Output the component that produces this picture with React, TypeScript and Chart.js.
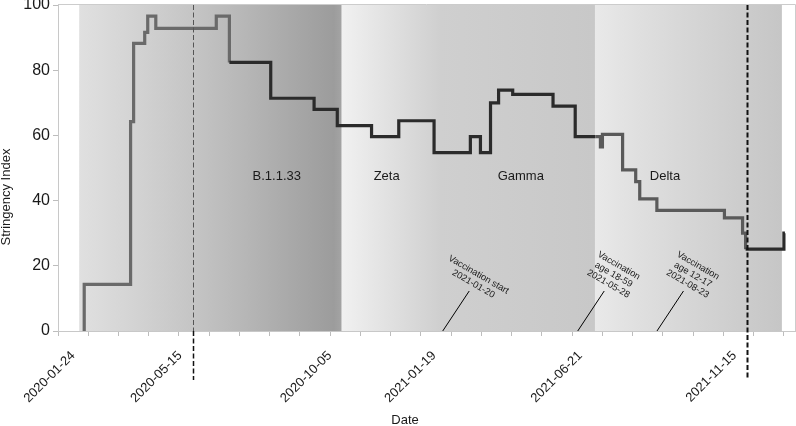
import React, { useEffect, useRef } from 'react';
import { Chart, registerables } from 'chart.js';

Chart.register(...registerables);

// ---- data (x = day index along the axis, y = Stringency Index) ----
const changeDay = [25, 26, 72, 75, 86, 89, 97, 157, 170, 211, 254, 277, 311, 338, 373, 409, 419, 429, 437, 451, 491, 513, 533, 538, 540, 560, 573, 577, 594, 661, 679, 682, 720, 721];
const stringency = [0, 14.3, 64.2, 88.2, 91.6, 96.6, 92.8, 96.6, 82.4, 71.4, 68.0, 63.0, 59.6, 64.5, 54.7, 59.6, 54.7, 70.0, 73.9, 72.6, 69.0, 59.6, 59.6, 56.5, 60.3, 49.4, 45.8, 40.5, 37.0, 34.7, 30.0, 25.1, 30.0, 30.0];

// x tick labels
const labelDays = [15, 121, 269.5, 373, 518, 671];
const labelTexts = ['2020-01-24', '2020-05-15', '2020-10-05', '2021-01-19', '2021-06-21', '2021-11-15'];

// variant periods (shaded bands)
const bandStart = [21, 281.4, 532.6];
const bandEnd = [281.4, 532.6, 718];
const variantNames = ['B.1.1.33', 'Zeta', 'Gamma', 'Delta'];
const variantLabelDay = [217, 326, 459, 602];
const variantLabelY = 47.5;

// dashed markers
const markerDays = [134.2, 683.4];

// vaccination annotations
const vaccDays = [381.6, 515.5, 594.1];
const vaccTexts = [
  ['Vaccination start', '2021-01-20'],
  ['Vaccination', 'age 18-59', '2021-05-28'],
  ['Vaccination', 'age 12-17', '2021-08-23'],
];

const X_MIN = 0;
const X_MAX = 731;
const FONT = "'Liberation Sans', Arial, Helvetica, sans-serif";

const bandStops: [number, string][][] = [
  [[0, '#e0e0e0'], [0.23, '#d2d2d2'], [0.43, '#c5c5c5'], [0.65, '#b5b5b5'], [0.84, '#a6a6a6'], [0.97, '#9c9c9c'], [1, '#a4a4a4']],
  [[0, '#f1f1f1'], [0.15, '#e4e4e4'], [0.31, '#d6d6d6'], [0.39, '#cfcfcf'], [1, '#c8c8c8']],
  [[0, '#e9e9e9'], [0.24, '#dfdfdf'], [0.56, '#d4d4d4'], [0.8, '#cccccc'], [1, '#c6c6c6']],
];

const allTicks: number[] = [];
for (let v = 0; v <= 720; v += 30) allTicks.push(v);
labelDays.forEach((d) => allTicks.push(d));
allTicks.sort((a, b) => a - b);
const labelMap = new Map<number, string>();
labelDays.forEach((d, i) => labelMap.set(d, labelTexts[i]));

function segColor(x: number) {
  if (x < 170) return '#6a6a6a';
  if (x < 533) return '#2b2b2b';
  if (x < 682) return '#5a5a5a';
  return '#2b2b2b';
}

const overlay = {
  id: 'overlay',
  beforeDraw(chart: any) {
    const { ctx, chartArea: a, scales } = chart;
    const x = scales.x;
    ctx.save();
    bandStart.forEach((s, i) => {
      const x0 = x.getPixelForValue(s);
      const x1 = x.getPixelForValue(bandEnd[i]);
      const g = ctx.createLinearGradient(x0, 0, x1, 0);
      bandStops[i].forEach(([f, c]) => g.addColorStop(f, c));
      ctx.fillStyle = g;
      ctx.fillRect(x0, a.top, x1 - x0, a.bottom - a.top);
    });
    ctx.restore();
  },
  afterDatasetsDraw(chart: any) {
    const { ctx, chartArea: a, scales } = chart;
    const x = scales.x;
    const y = scales.y;
    ctx.save();
    // frame top/right
    ctx.strokeStyle = '#cccccc';
    ctx.lineWidth = 1;
    ctx.beginPath();
    ctx.moveTo(a.left, a.top - 0.5);
    ctx.lineTo(a.right + 0.5, a.top - 0.5);
    ctx.lineTo(a.right + 0.5, a.bottom);
    ctx.stroke();

    // dashed markers
    markerDays.forEach((d, i) => {
      const px = Math.round(x.getPixelForValue(d)) + 0.5;
      ctx.setLineDash([5, 2.5]);
      if (i === 0) {
        ctx.strokeStyle = '#555555';
        ctx.lineWidth = 1;
        ctx.beginPath();
        ctx.moveTo(px, a.top);
        ctx.lineTo(px, a.bottom);
        ctx.stroke();
        ctx.strokeStyle = '#111111';
        ctx.lineWidth = 1.5;
        ctx.beginPath();
        ctx.moveTo(px, a.bottom);
        ctx.lineTo(px, a.bottom + 49);
        ctx.stroke();
      } else {
        ctx.strokeStyle = '#111111';
        ctx.lineWidth = 2;
        ctx.beginPath();
        ctx.moveTo(px, a.top);
        ctx.lineTo(px, a.bottom + 49);
        ctx.stroke();
      }
    });
    ctx.setLineDash([]);

    // variant labels
    ctx.fillStyle = '#1a1a1a';
    ctx.font = `13px ${FONT}`;
    ctx.textAlign = 'center';
    ctx.textBaseline = 'middle';
    variantNames.forEach((n, i) => {
      ctx.fillText(n, x.getPixelForValue(variantLabelDay[i]), y.getPixelForValue(variantLabelY));
    });

    // vaccination annotations
    const ang = Math.PI / 6;
    const lh = 10.5;
    vaccDays.forEach((d, i) => {
      const px = x.getPixelForValue(d);
      const py = a.bottom;
      const ex = px + 26.5;
      const ey = py - 40;
      ctx.strokeStyle = '#000';
      ctx.lineWidth = 1;
      ctx.beginPath();
      ctx.moveTo(px, py);
      ctx.lineTo(ex, ey);
      ctx.stroke();
      const lines = vaccTexts[i];
      const half = (lines.length * lh) / 2;
      const up = [Math.sin(ang), -Math.cos(ang)];
      const bx = ex + up[0] * 3;
      const by = ey + up[1] * 3;
      const cx = bx + up[0] * half;
      const cy = by + up[1] * half;
      ctx.save();
      ctx.translate(cx, cy);
      ctx.rotate(ang);
      ctx.font = `9.3px ${FONT}`;
      ctx.fillStyle = '#1a1a1a';
      ctx.textAlign = 'center';
      ctx.textBaseline = 'middle';
      lines.forEach((t, k) => {
        ctx.fillText(t, 0, -half + lh / 2 + k * lh);
      });
      ctx.restore();
    });

    // axis titles
    ctx.fillStyle = '#1a1a1a';
    ctx.font = `13px ${FONT}`;
    ctx.textAlign = 'center';
    ctx.textBaseline = 'middle';
    ctx.fillText('Date', 405, 420);
    ctx.save();
    ctx.translate(6, 197);
    ctx.rotate(-Math.PI / 2);
    ctx.fillText('Stringency Index', 0, 0);
    ctx.restore();
    ctx.restore();
  },
};

export default function App() {
  const ref = useRef<HTMLCanvasElement>(null);
  useEffect(() => {
    if (!ref.current) return;
    Chart.defaults.font.family = FONT;
    const chart = new Chart(ref.current, {
      type: 'line',
      data: {
        datasets: [
          {
            data: changeDay.map((d, i) => ({ x: d, y: stringency[i] })),
            stepped: true,
            borderWidth: 3.2,
            borderColor: '#2b2b2b',
            pointRadius: 0,
            fill: false,
            borderJoinStyle: 'miter',
            borderCapStyle: 'butt',
            segment: {
              borderColor: (c: any) => segColor(c.p0.parsed.x),
            },
          } as any,
        ],
      },
      options: {
        responsive: false,
        animation: false,
        devicePixelRatio: 1,
        layout: { padding: { top: 5, right: 1, left: 0, bottom: 0 } },
        plugins: { legend: { display: false }, tooltip: { enabled: false } },
        scales: {
          x: {
            type: 'linear',
            min: X_MIN,
            max: X_MAX,
            afterBuildTicks: (s: any) => {
              s.ticks = allTicks.map((v) => ({ value: v }));
            },
            afterFit: (s: any) => {
              s.height = 95;
              s.paddingLeft = 0;
              s.paddingRight = 0;
            },
            ticks: {
              autoSkip: false,
              minRotation: 45,
              maxRotation: 45,
              padding: 12,
              color: '#1a1a1a',
              font: { size: 13, family: FONT },
              callback: (v: any) => labelMap.get(Number(v)) ?? '',
            },
            grid: {
              drawOnChartArea: false,
              tickLength: 5,
              tickColor: (c: any) => (c.tick && labelMap.has(c.tick.value) ? 'rgba(0,0,0,0)' : '#bdbdbd'),
            },
            border: { color: '#c8c8c8', width: 1 },
          },
          y: {
            min: 0,
            max: 100,
            afterFit: (s: any) => {
              s.width = 58;
              s.paddingTop = 0;
              s.paddingBottom = 0;
            },
            ticks: { stepSize: 20, padding: 3, color: '#1a1a1a', font: { size: 16, family: FONT } },
            grid: { drawOnChartArea: false, tickLength: 5, tickColor: '#bdbdbd' },
            border: { color: '#c8c8c8', width: 1 },
          },
        },
      },
      plugins: [overlay],
    } as any);
    return () => chart.destroy();
  }, []);
  return (
    <div style={{ position: 'absolute', left: 0, top: 0, width: 796, height: 426 }}>
      <canvas ref={ref} width={796} height={426} style={{ display: 'block' }} />
    </div>
  );
}
